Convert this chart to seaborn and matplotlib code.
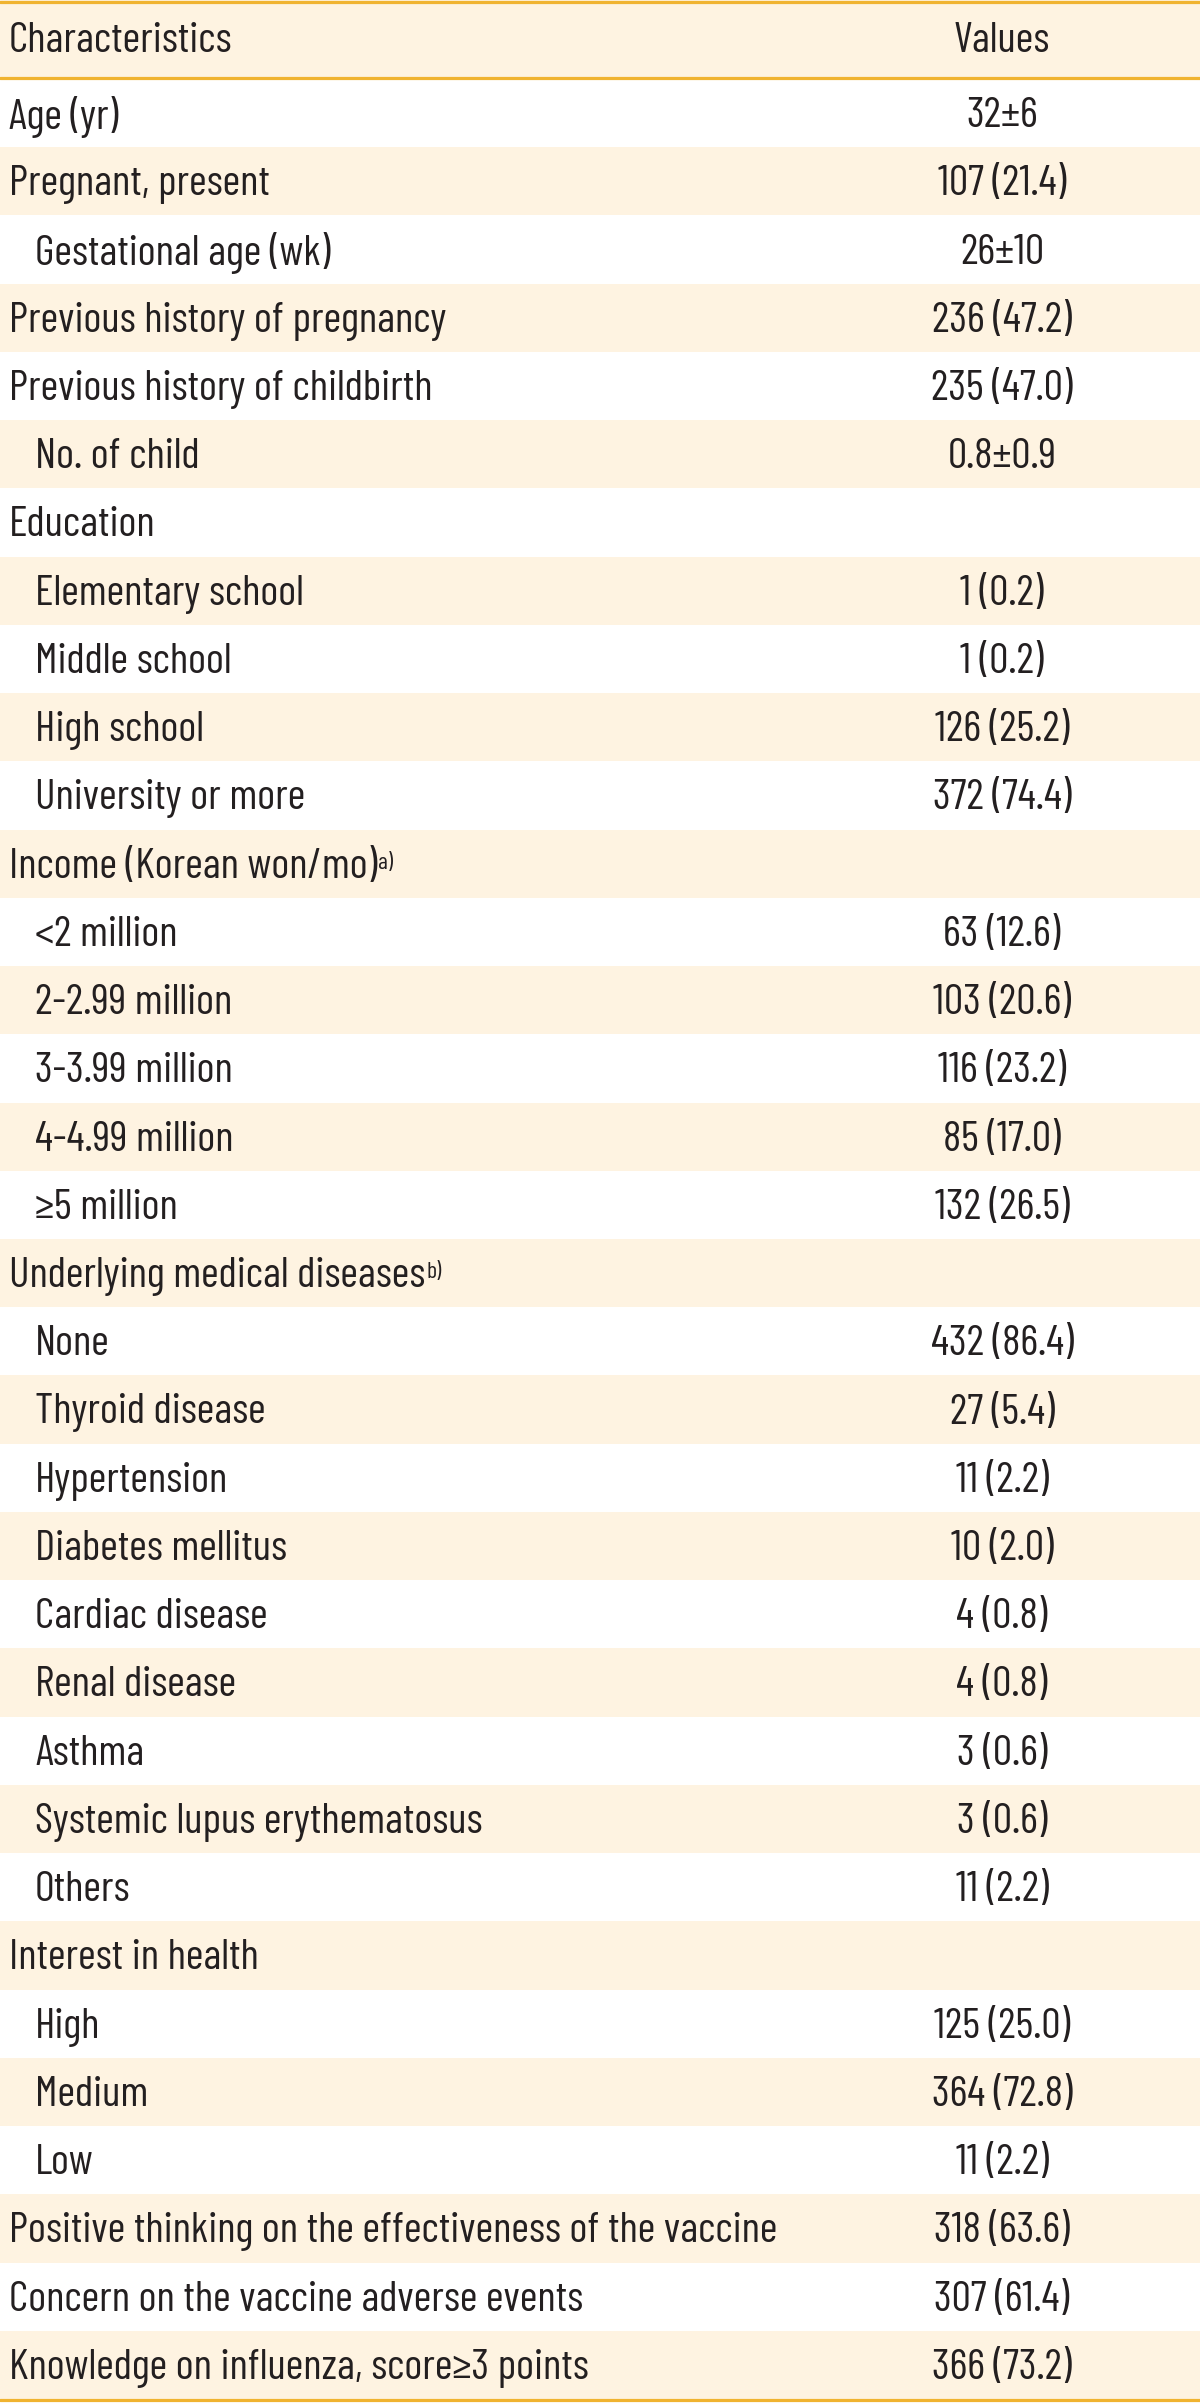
import matplotlib
matplotlib.use("Agg")
import matplotlib.pyplot as plt
import seaborn as sns
import numpy as np
from matplotlib.colors import ListedColormap

# ---------------- data ----------------
header_labels = ["Characteristics", "Values"]

labels = [
    "Age (yr)", "Pregnant, present", "Gestational age (wk)",
    "Previous history of pregnancy", "Previous history of childbirth",
    "No. of child", "Education", "Elementary school", "Middle school",
    "High school", "University or more", "Income (Korean won/mo)",
    "<2 million", "2-2.99 million", "3-3.99 million", "4-4.99 million",
    "\u22655 million", "Underlying medical diseases", "None",
    "Thyroid disease", "Hypertension", "Diabetes mellitus",
    "Cardiac disease", "Renal disease", "Asthma",
    "Systemic lupus erythematosus", "Others", "Interest in health",
    "High", "Medium", "Low",
    "Positive thinking on the effectiveness of the vaccine",
    "Concern on the vaccine adverse events",
    "Knowledge on influenza, score\u22653 points",
]

values = [
    "32\u00b16", "107 (21.4)", "26\u00b110", "236 (47.2)", "235 (47.0)",
    "0.8\u00b10.9", "", "1 (0.2)", "1 (0.2)", "126 (25.2)", "372 (74.4)",
    "", "63 (12.6)", "103 (20.6)", "116 (23.2)", "85 (17.0)", "132 (26.5)",
    "", "432 (86.4)", "27 (5.4)", "11 (2.2)", "10 (2.0)", "4 (0.8)",
    "4 (0.8)", "3 (0.6)", "3 (0.6)", "11 (2.2)", "", "125 (25.0)",
    "364 (72.8)", "11 (2.2)", "318 (63.6)", "307 (61.4)", "366 (73.2)",
]

indent = [0, 0, 1, 0, 0, 1, 0, 1, 1, 1, 1, 0, 1, 1, 1, 1, 1, 0,
          1, 1, 1, 1, 1, 1, 1, 1, 1, 0, 1, 1, 1, 0, 0, 0]

superscripts = {11: "a)", 17: "b)"}

# ---------------- style ----------------
CREAM = "#FEF3E1"
GOLD = "#F0B330"
TEXT = "#231F20"

sns.set_theme(style="white")
plt.rcParams["font.family"] = ["Barlow Condensed", "Pathway Gothic One",
                               "Roboto Condensed", "DejaVu Sans"]

W, H = 1200, 2403
fig = plt.figure(figsize=(W / 100, H / 100), dpi=100)

header_top, header_bot = 0, 79
body_top, body_bot = 79, 2399

def fig_rect(top_px, bot_px):
    return [0, 1 - bot_px / H, 1, (bot_px - top_px) / H]

ax_h = fig.add_axes(fig_rect(header_top, header_bot))
ax_b = fig.add_axes(fig_rect(body_top, body_bot))

cmap = ListedColormap(["white", CREAM])
sns.heatmap(np.array([[1]]), ax=ax_h, cmap=cmap, vmin=0, vmax=1, cbar=False,
            xticklabels=False, yticklabels=False)
stripe = np.array([[i % 2] for i in range(len(labels))])
sns.heatmap(stripe, ax=ax_b, cmap=cmap, vmin=0, vmax=1, cbar=False,
            xticklabels=False, yticklabels=False)

FS = 31
VAL_X = 1002 / W
LEFT0 = 9 / W
LEFT1 = 35 / W

ax_h.text(LEFT0, 0.47, header_labels[0], transform=ax_h.transAxes,
          ha="left", va="center", fontsize=FS, color=TEXT)
ax_h.text(VAL_X, 0.47, header_labels[1], transform=ax_h.transAxes,
          ha="center", va="center", fontsize=FS, color=TEXT)

tr = ax_b.get_yaxis_transform()
texts = {}
for i, (lab, val, ind) in enumerate(zip(labels, values, indent)):
    x = LEFT1 if ind else LEFT0
    t = ax_b.text(x, i + 0.55, lab, transform=tr, ha="left", va="center",
                  fontsize=FS, color=TEXT)
    texts[i] = t
    if val:
        ax_b.text(VAL_X, i + 0.55, val, transform=tr, ha="center", va="center",
                  fontsize=FS, color=TEXT)

# gold rules
for y_px in (1.5, 78, 2400):
    fig.add_artist(plt.Line2D([0, 1], [1 - y_px / H, 1 - y_px / H],
                              transform=fig.transFigure, color=GOLD, lw=2.3))

# superscripts
fig.canvas.draw()
renderer = fig.canvas.get_renderer()
for i, s in superscripts.items():
    bb = texts[i].get_window_extent(renderer)
    x_fig = (bb.x1 + 1) / W
    y_fig = (bb.y1 - 5) / H
    fig.text(x_fig, y_fig, s, ha="left", va="top", fontsize=FS * 0.55, color=TEXT)

fig.savefig("out.png", dpi=100)
